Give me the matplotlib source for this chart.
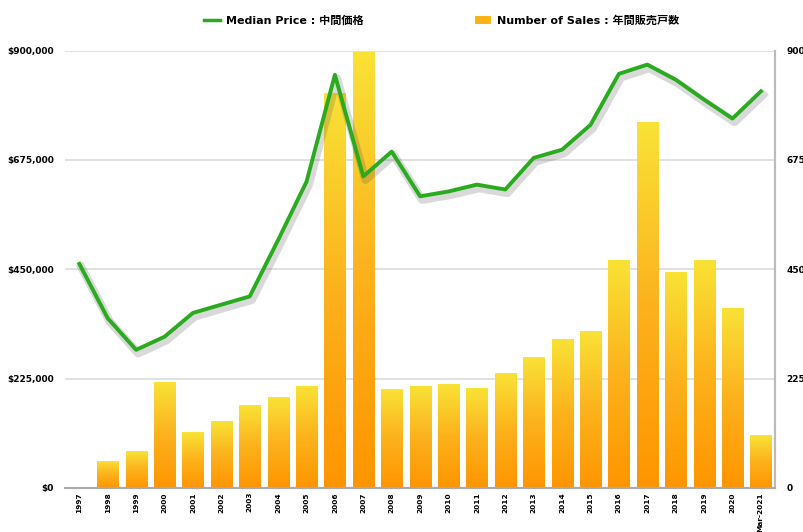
"median price / number of sales chart"
import numpy as np
import matplotlib
matplotlib.use("Agg")
import matplotlib.pyplot as plt
import matplotlib.patheffects as pe
from matplotlib.lines import Line2D
from matplotlib.patches import Patch
from matplotlib.colors import LinearSegmentedColormap
from matplotlib.ticker import FuncFormatter

plt.rcParams['font.family'] = ['DejaVu Sans', 'Noto Sans CJK JP']

"data"
years = ["1997", "1998", "1999", "2000", "2001", "2002", "2003", "2004", "2005",
         "2006", "2007", "2008", "2009", "2010", "2011", "2012", "2013", "2014",
         "2015", "2016", "2017", "2018", "2019", "2020", "Mar-2021"]

median_price = [461000, 349000, 284000, 311000, 360000, 377000, 394000, 510000, 630000,
                850000, 641000, 692000, 600000, 610000, 624000, 614000, 679000, 696000,
                747000, 852000, 871000, 840000, 799000, 760000, 816000]

num_sales = [0, 56, 76, 218, 115, 137, 170, 186, 209,
             813, 896, 204, 210, 214, 205, 236, 270, 307,
             322, 469, 752, 445, 469, 370, 108]

price_label = "Median Price : 中間価格"
sales_label = "Number of Sales : 年間販売戸数"

"figure"
fig = plt.figure(figsize=(8.04, 5.32), dpi=100)
ax = fig.add_axes([0.081, 0.083, 0.883, 0.822])
ax2 = ax.twinx()

x = np.arange(len(years))
width = 0.74

"gradient bars on the right axis"
cmap = LinearSegmentedColormap.from_list("bar", ["#ff9500", "#fcb21c", "#f9e236"])
grad = np.linspace(0, 1, 256).reshape(-1, 1)
bars = ax2.bar(x, num_sales, width=width, color="none", edgecolor="none", zorder=2)
for b in bars:
    h = b.get_height()
    if h <= 0:
        continue
    x0 = b.get_x()
    im = ax2.imshow(grad, cmap=cmap, origin="lower", aspect="auto",
                    extent=(x0, x0 + b.get_width(), 0, h), zorder=2)
    im.set_clip_path(b)

ax2.set_ylim(0, 900)
ax2.set_yticks([0, 225, 450, 675, 900])
ax2.grid(axis="y", color="#dcdcdc", linewidth=1.2)
ax2.set_axisbelow(True)

"line on the left axis, on top"
ax.set_zorder(ax2.get_zorder() + 1)
ax.patch.set_visible(False)
ax.plot(x, median_price, color="#2aab1f", linewidth=2.8, zorder=5,
        path_effects=[pe.SimpleLineShadow(offset=(1.5, -2.5), shadow_color="#555555", alpha=0.22, linewidth=6),
                      pe.Normal()])
ax.set_ylim(0, 900000)
ax.set_yticks([0, 225000, 450000, 675000, 900000])
ax.yaxis.set_major_formatter(FuncFormatter(lambda v, p: "${:,.0f}".format(v)))
ax.set_xlim(-0.5, len(years) - 0.5)
ax.set_xticks(x)
ax.set_xticklabels(years, rotation=90, fontsize=5.3, fontweight="bold")

for a in (ax, ax2):
    for s in ("top", "left"):
        a.spines[s].set_visible(False)
    a.spines["bottom"].set_color("#aaaaaa")
    a.spines["bottom"].set_linewidth(1.5)
    a.spines["right"].set_color("#bbbbbb")
    a.spines["right"].set_linewidth(1.5)

ax.tick_params(axis="x", length=0, pad=3)
ax.tick_params(axis="y", length=0, pad=8, labelsize=6.5)
ax2.tick_params(axis="y", length=0, pad=8, labelsize=6.5)
for t in ax.get_yticklabels() + ax2.get_yticklabels():
    t.set_fontweight("bold")

"legend"
handles = [Line2D([0], [0], color="#2aab1f", linewidth=2.5),
           Patch(facecolor="#fdb316", edgecolor="none")]
fig.legend(handles, [price_label, sales_label], loc="center", ncol=2,
           bbox_to_anchor=(0.549, 0.962), frameon=False, columnspacing=10,
           handlelength=1.5, handletextpad=0.5,
           prop={"size": 8, "weight": "bold"})

fig.savefig("out.png", dpi=100)
